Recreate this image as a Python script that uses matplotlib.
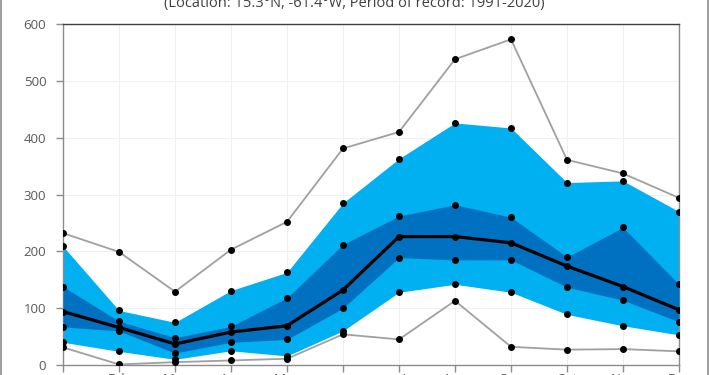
import matplotlib.pyplot as plt
from matplotlib.lines import Line2D
import numpy as np

months = ['Jan', 'Feb', 'Mar', 'Apr', 'May', 'Jun', 'Jul', 'Aug', 'Sep', 'Oct', 'Nov', 'Dec']

# monthly rainfall statistics (mm)
rain_max = [232, 199, 129, 203, 252, 381, 410, 538, 573, 361, 337, 294]
rain_p90 = [209, 96, 75, 131, 163, 285, 363, 426, 417, 321, 324, 270]
rain_p75 = [138, 77, 48, 68, 118, 212, 262, 282, 260, 190, 242, 142]
rain_med = [94, 66, 37, 58, 69, 132, 226, 226, 215, 174, 138, 97]
rain_p25 = [67, 60, 21, 40, 45, 100, 189, 185, 185, 137, 114, 76]
rain_p10 = [40, 24, 10, 25, 16, 60, 128, 142, 128, 89, 69, 53]
rain_min = [31, 1, 5, 8, 11, 54, 45, 113, 32, 27, 28, 24]

title = '(Location: 15.3\u00b0N, -61.4\u00b0W, Period of record: 1991-2020)'

light_blue = '#00b0f0'
dark_blue = '#0070c0'
grey_line = '#a0a0a0'
text_col = '#595959'

plt.rcParams['font.family'] = ['Open Sans', 'DejaVu Sans']

fig = plt.figure(figsize=(7.1, 3.75), dpi=100)
ax = fig.add_axes([63/710., 10/375., 616/710., 341/375.])

x = np.arange(len(months))

ax.fill_between(x, rain_p10, rain_p90, color=light_blue, lw=0, zorder=2)
ax.fill_between(x, rain_p25, rain_p75, color=dark_blue, lw=0, zorder=3)

ax.plot(x, rain_max, '-o', color=grey_line, lw=1.3, ms=4, mfc='black', mec='black', zorder=4)
ax.plot(x, rain_min, '-o', color=grey_line, lw=1.3, ms=4, mfc='black', mec='black', zorder=4)
for s in [rain_p90, rain_p75, rain_p25, rain_p10]:
    ax.plot(x, s, 'o', color='black', ms=4, zorder=5)
ax.plot(x, rain_med, '-o', color='black', lw=2.3, ms=4, zorder=6)

ax.set_xlim(0, 11)
ax.set_ylim(0, 600)
ax.set_yticks(range(0, 601, 100))
ax.set_xticks(x)
ax.set_xticklabels(months)

ax.grid(True, color='#f0f0f0', lw=0.8, zorder=0)
ax.set_axisbelow(True)

for side in ['left', 'bottom', 'right']:
    ax.spines[side].set_color('#8c8c8c')
    ax.spines[side].set_linewidth(1.0)
ax.spines['top'].set_color('#404040')
ax.spines['top'].set_linewidth(1.0)

ax.tick_params(axis='y', direction='out', length=5, width=1, color='#8c8c8c',
               labelsize=9.5, labelcolor=text_col, pad=7)
ax.tick_params(axis='x', direction='out', length=5, width=1, color='#8c8c8c',
               labelsize=9.5, labelcolor=text_col, pad=1)

fig.text(354/710., 1 - 7/375., title, ha='center', va='baseline', fontsize=10.5, color='#404040')

# outer chart border
fig.add_artist(Line2D([0.6/710., 0.6/710.], [0, 1], color='#8c8c8c', lw=1.2))
fig.add_artist(Line2D([707.5/710., 707.5/710.], [0, 1], color='#8c8c8c', lw=1.2))

plt.savefig('out.png', dpi=100)
